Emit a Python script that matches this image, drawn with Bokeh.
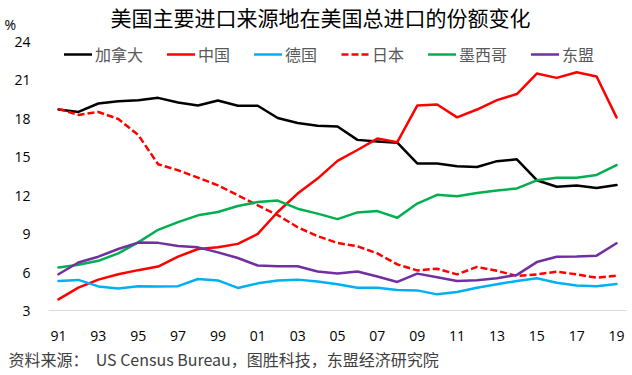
from bokeh.plotting import figure
from bokeh.models import FixedTicker, Label, Legend, LegendItem, Range1d, Title
from bokeh.embed import file_html
from bokeh.resources import INLINE

# ---------------- data ----------------
years = list(range(1991, 2020))
canada = [18.70, 18.50, 19.16, 19.34, 19.42, 19.60, 19.24, 19.00, 19.40, 18.98,
          18.98, 18.03, 17.64, 17.42, 17.37, 16.32, 16.20, 16.10, 14.48, 14.48,
          14.27, 14.20, 14.66, 14.80, 13.17, 12.66, 12.75, 12.56, 12.79]
china = [3.87, 4.78, 5.41, 5.83, 6.15, 6.43, 7.20, 7.80, 7.93, 8.20,
         8.98, 10.69, 12.13, 13.30, 14.68, 15.53, 16.42, 16.14, 19.00, 19.08,
         18.08, 18.69, 19.42, 19.90, 21.50, 21.16, 21.60, 21.27, 18.08]
germany = [5.30, 5.39, 4.88, 4.72, 4.90, 4.88, 4.90, 5.46, 5.35, 4.76,
           5.12, 5.35, 5.41, 5.26, 5.05, 4.78, 4.78, 4.60, 4.57, 4.26,
           4.44, 4.78, 5.05, 5.31, 5.52, 5.17, 4.96, 4.90, 5.07]
japan = [18.74, 18.27, 18.50, 17.95, 16.71, 14.42, 13.95, 13.37, 12.77, 12.00,
         11.20, 10.45, 9.50, 8.80, 8.28, 8.01, 7.46, 6.60, 6.13, 6.26,
         5.82, 6.40, 6.10, 5.70, 5.82, 6.03, 5.82, 5.56, 5.72]
mexico = [6.35, 6.57, 6.88, 7.46, 8.32, 9.30, 9.90, 10.43, 10.69, 11.16,
          11.47, 11.58, 10.95, 10.56, 10.13, 10.66, 10.76, 10.24, 11.35, 12.03,
          11.92, 12.18, 12.37, 12.53, 13.16, 13.37, 13.37, 13.58, 14.35]
asean = [5.83, 6.75, 7.20, 7.80, 8.30, 8.28, 8.04, 7.93, 7.54, 7.10,
         6.51, 6.46, 6.46, 6.04, 5.88, 6.04, 5.65, 5.23, 5.88, 5.60,
         5.31, 5.36, 5.52, 5.78, 6.78, 7.20, 7.22, 7.28, 8.25]

series_names = ["加拿大", "中国", "德国", "日本", "墨西哥", "东盟"]
series_values = [canada, china, germany, japan, mexico, asean]
series_colors = ["#000000", "#FF0000", "#00B0F0", "#FF0000", "#00B050", "#7030A0"]
series_dash = ["solid", "solid", "solid", "7 3", "solid", "solid"]

y_ticks = [3, 6, 9, 12, 15, 18, 21, 24]
x_tick_years = years[::2]
x_tick_labels = ["91", "93", "95", "97", "99", "01", "03", "05",
                 "07", "09", "11", "13", "15", "17", "19"]

title_text = "美国主要进口来源地在美国总进口的份额变化"
unit_text = "%"
source_text = "资料来源：\u00a0\u00a0US Census Bureau，图胜科技，东盟经济研究院"

# ---------------- layout ----------------
W, H = 632, 375
FL, FR, FB = 48, 626, 310          # frame left/right/bottom in canvas px
AXIS_TOP_PX = 41                   # canvas px of the value 24
X0, X1 = years[0] - 0.5, years[-1] + 0.5
Y0, Y1 = 3, 24
PX_PER_UNIT = (FB - AXIS_TOP_PX) / (Y1 - Y0)
Y_TOP = Y1 + AXIS_TOP_PX / PX_PER_UNIT          # frame extends to canvas top
UNIT_TICK = round(Y0 + (FB - 24) / PX_PER_UNIT, 3)  # where the "%" sits

CJK = "Noto Sans CJK SC"
LAT = "Open Sans"

def fx(px):
    return px - FL

def fy(py):
    return FB - py

p = figure(width=W, height=H, x_range=Range1d(X0, X1), y_range=Range1d(Y0, Y_TOP),
           output_backend="svg", toolbar_location=None,
           min_border_left=FL, min_border_right=W - FR,
           min_border_top=0, min_border_bottom=H - FB)
p.title.visible = False
p.outline_line_color = None
p.background_fill_color = "white"
p.border_fill_color = "white"
p.xgrid.visible = False
p.ygrid.visible = False

# y axis (the unit sign is the top "tick")
p.yaxis.ticker = FixedTicker(ticks=y_ticks + [UNIT_TICK])
p.yaxis.major_label_overrides = {UNIT_TICK: unit_text + "\u00a0" * 4}
p.yaxis.axis_line_color = None
p.yaxis.major_tick_line_color = None
p.yaxis.minor_tick_line_color = None
p.yaxis.major_label_standoff = 12
p.yaxis.major_label_text_font = LAT
p.yaxis.major_label_text_font_size = "14px"
p.yaxis.major_label_text_color = "#000000"

# x axis
p.xaxis.ticker = FixedTicker(ticks=x_tick_years)
p.xaxis.major_label_overrides = {y: l for y, l in zip(x_tick_years, x_tick_labels)}
p.xaxis.axis_line_color = "#D9D9D9"
p.xaxis.axis_line_width = 1
p.xaxis.major_tick_line_color = None
p.xaxis.minor_tick_line_color = None
p.xaxis.major_label_standoff = 14
p.xaxis.major_label_text_font = LAT
p.xaxis.major_label_text_font_size = "14px"
p.xaxis.major_label_text_color = "#000000"

items = []
for name, vals, col, dash in zip(series_names, series_values, series_colors, series_dash):
    r = p.line(years, vals, line_color=col, line_width=2.5, line_dash=dash,
               line_join="round", line_cap="round" if dash == "solid" else "butt")
    items.append(LegendItem(label=name, renderers=[r]))

legend = Legend(items=items, orientation="horizontal", location=(16, 244),
                glyph_width=28, glyph_height=20, label_height=20,
                label_standoff=3, spacing=24, padding=0, margin=0,
                border_line_color=None, background_fill_alpha=0,
                label_text_font=CJK, label_text_font_size="16px",
                label_text_color="#595959")
p.add_layout(legend, "center")

p.add_layout(Label(x=fx(320), y=fy(16), x_units="screen", y_units="screen",
                   text=title_text, text_align="center",
                   text_baseline="middle", text_font=CJK, text_font_size="21px",
                   text_color="#000000"))

src = Title(text=source_text, align="left", offset=8 - FL, standoff=2,
            text_font=CJK, text_font_size="16px", text_font_style="normal",
            text_color="#404040")
p.add_layout(src, "below")

open("out.html", "w").write(file_html(p, INLINE))
